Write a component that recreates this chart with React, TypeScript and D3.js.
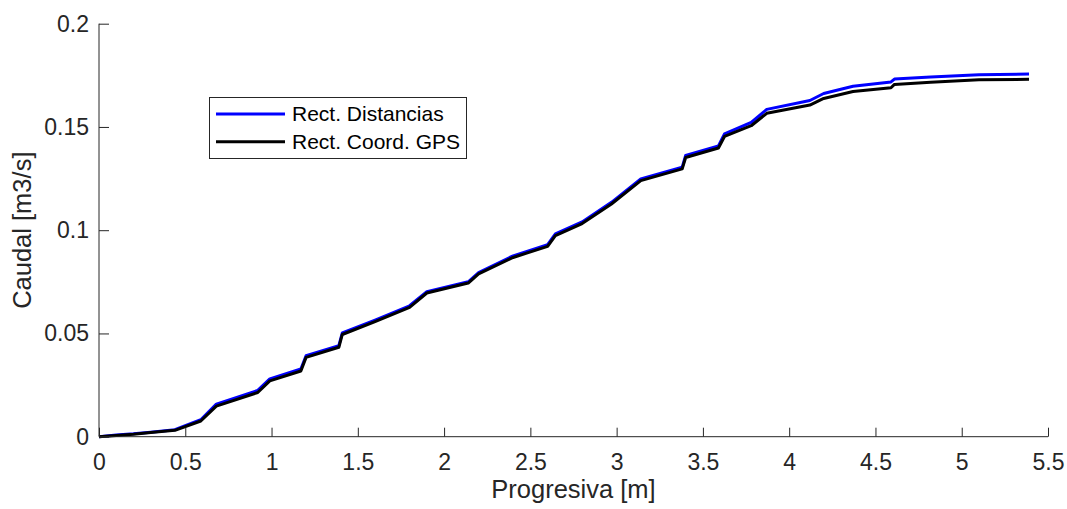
import React, { useEffect, useRef } from "react";
import * as d3 from "d3";

// Progresiva [m] sampling points shared by both series
const progresiva = [
  0, 0.1, 0.2, 0.3, 0.44, 0.59, 0.68, 0.92, 0.99, 1.17, 1.2, 1.39, 1.41, 1.6, 1.8,
  1.9, 2.14, 2.2, 2.4, 2.6, 2.645, 2.8, 2.97, 3.14, 3.38, 3.4, 3.59, 3.625, 3.78,
  3.87, 4.12, 4.2, 4.37, 4.59, 4.61, 4.82, 5.1, 5.39,
];

// Caudal [m3/s] — rectification by distances
const caudalDistancias = [
  0, 0.0008, 0.0014, 0.0022, 0.0034, 0.0082, 0.0158, 0.0224, 0.028, 0.0328, 0.0392,
  0.0441, 0.0503, 0.0565, 0.0634, 0.0702, 0.075, 0.0795, 0.0876, 0.093, 0.0982,
  0.104, 0.1135, 0.1248, 0.1305, 0.1362, 0.1408, 0.1466, 0.1522, 0.1585, 0.1628,
  0.1662, 0.1697, 0.1718, 0.1732, 0.1742, 0.1753, 0.1756,
];

// Caudal [m3/s] — rectification by GPS coordinates
const caudalGPS = [
  0, 0.0006, 0.0012, 0.002, 0.0031, 0.0076, 0.0148, 0.0214, 0.027, 0.0318, 0.0384,
  0.0433, 0.0495, 0.0557, 0.0626, 0.0696, 0.0744, 0.0789, 0.0868, 0.0922, 0.0974,
  0.1032, 0.1127, 0.124, 0.1297, 0.1352, 0.1398, 0.1454, 0.1506, 0.1566, 0.1606,
  0.1638, 0.1672, 0.169, 0.1706, 0.1716, 0.1728, 0.1731,
];

const xTicks = [0, 0.5, 1, 1.5, 2, 2.5, 3, 3.5, 4, 4.5, 5, 5.5];
const yTicks = [0, 0.05, 0.1, 0.15, 0.2];

const seriesNames = ["Rect. Distancias", "Rect. Coord. GPS"];
const seriesColors = ["#0000ff", "#000000"];

const W = 1067;
const H = 509;
const FONT = "'Liberation Sans', Arial, Helvetica, sans-serif";
const AXIS = "#262626";

export default function App() {
  const ref = useRef<SVGSVGElement>(null);

  useEffect(() => {
    const svg = d3.select(ref.current);
    svg.selectAll("*").remove();

    const x = d3.scaleLinear().domain([0, 5.5]).range([99, 1048]);
    const y = d3.scaleLinear().domain([0, 0.2]).range([436.7, 23.7]);

    const g = svg.append("g");

    // series lines
    const line = d3
      .line<[number, number]>()
      .x((d) => x(d[0]))
      .y((d) => y(d[1]));

    [caudalDistancias, caudalGPS].forEach((vals, i) => {
      const pts = progresiva.map((p, k) => [p, vals[k]] as [number, number]);
      g.append("path")
        .attr("d", line(pts))
        .attr("fill", "none")
        .attr("stroke", seriesColors[i])
        .attr("stroke-width", 3)
        .attr("stroke-linejoin", "round");
    });

    // x axis
    const xAxis = d3
      .axisBottom(x)
      .tickValues(xTicks)
      .tickSize(-9)
      .tickPadding(17)
      .tickFormat((d) => String(d));
    const gx = g.append("g").attr("transform", `translate(0,${y(0)})`).call(xAxis);
    gx.select(".domain").attr("stroke", AXIS).attr("d", `M${x(0)},0H${x(5.5)}`);
    gx.selectAll(".tick line").attr("stroke", AXIS);
    gx.selectAll(".tick text")
      .attr("fill", AXIS)
      .attr("font-family", FONT)
      .attr("font-size", 23);

    // y axis
    const yAxis = d3
      .axisLeft(y)
      .tickValues(yTicks)
      .tickSize(-10)
      .tickPadding(10)
      .tickFormat((d) => String(d));
    const gy = g.append("g").attr("transform", `translate(${x(0)},0)`).call(yAxis);
    gy.select(".domain").attr("stroke", AXIS).attr("d", `M0,${y(0)}V${y(0.2)}`);
    gy.selectAll(".tick line").attr("stroke", AXIS);
    gy.selectAll(".tick text")
      .attr("fill", AXIS)
      .attr("font-family", FONT)
      .attr("font-size", 23);

    // axis titles
    g.append("text")
      .attr("x", (x(0) + x(5.5)) / 2)
      .attr("y", 498)
      .attr("text-anchor", "middle")
      .attr("fill", AXIS)
      .attr("font-family", FONT)
      .attr("font-size", 25.5)
      .text("Progresiva [m]");

    g.append("text")
      .attr("transform", `translate(31,${(y(0) + y(0.2)) / 2}) rotate(-90)`)
      .attr("text-anchor", "middle")
      .attr("fill", AXIS)
      .attr("font-family", FONT)
      .attr("font-size", 25.5)
      .text("Caudal [m3/s]");

    // legend
    const lg = g.append("g");
    lg.append("rect")
      .attr("x", 209.5)
      .attr("y", 97.5)
      .attr("width", 257)
      .attr("height", 61)
      .attr("fill", "#ffffff")
      .attr("stroke", AXIS)
      .attr("stroke-width", 1);
    seriesNames.forEach((name, i) => {
      const ly = 114 + i * 27.7;
      lg.append("line")
        .attr("x1", 216)
        .attr("x2", 285)
        .attr("y1", ly)
        .attr("y2", ly)
        .attr("stroke", seriesColors[i])
        .attr("stroke-width", 3);
      lg.append("text")
        .attr("x", 292)
        .attr("y", ly)
        .attr("dy", "0.35em")
        .attr("fill", "#000000")
        .attr("font-family", FONT)
        .attr("font-size", 21)
        .text(name);
    });
  }, []);

  return (
    <svg
      ref={ref}
      width={W}
      height={H}
      style={{ position: "absolute", left: 0, top: 0, background: "#ffffff" }}
    />
  );
}
